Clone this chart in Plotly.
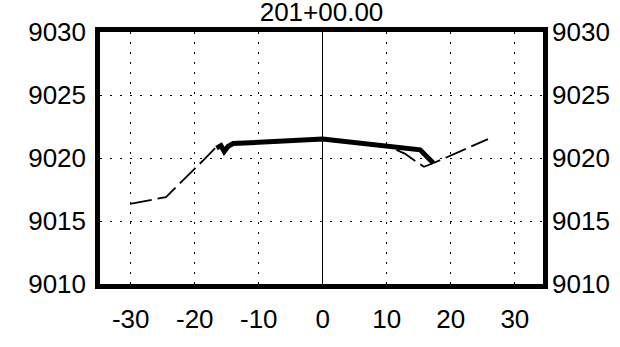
import plotly.graph_objects as go

title_text = "201+00.00"

# Existing ground (dashed), two visible pieces
ground_left_x = [-30.1, -24.5, -18.4, -16.8]
ground_left_y = [9016.35, 9016.9, 9019.95, 9020.8]
ground_right_x = [11.5, 12.8, 15.8, 17.3, 25.8]
ground_right_y = [9020.65, 9020.35, 9019.3, 9019.6, 9021.5]

# Design template (thick)
design_x = [-16.6, -15.9, -15.4, -14.8, -14.0, 0.0, 15.2, 17.25]
design_y = [9020.78, 9020.98, 9020.52, 9020.92, 9021.15, 9021.5, 9020.65, 9019.6]

x_ticks = [-30, -20, -10, 0, 10, 20, 30]
y_ticks = [9010, 9015, 9020, 9025, 9030]
x_range = [-34.8, 34.4]
y_range = [9010, 9030]

FONT = "Arial, Liberation Sans, sans-serif"
W, H = 620, 347

fig = go.Figure()
dash = "22px,6px"
fig.add_trace(go.Scatter(x=ground_left_x, y=ground_left_y, mode="lines",
                         line=dict(color="black", width=1.8, dash=dash),
                         hoverinfo="skip", showlegend=False))
fig.add_trace(go.Scatter(x=ground_right_x, y=ground_right_y, mode="lines",
                         line=dict(color="black", width=1.8, dash=dash),
                         hoverinfo="skip", showlegend=False))
fig.add_trace(go.Scatter(x=design_x, y=design_y, mode="lines",
                         line=dict(color="black", width=5),
                         hoverinfo="skip", showlegend=False))
# invisible trace to activate right-hand axis
fig.add_trace(go.Scatter(x=design_x, y=design_y, mode="lines", yaxis="y2",
                         line=dict(color="rgba(0,0,0,0)", width=0),
                         hoverinfo="skip", showlegend=False))

fig.update_layout(
    width=W, height=H,
    margin=dict(l=100, r=77, t=32, b=63, autoexpand=False),
    paper_bgcolor="white", plot_bgcolor="white",
    font=dict(family=FONT, size=26, color="black"),
    title=dict(text=title_text, x=0.5, xref="paper", xanchor="center",
               y=1 - 12 / H, yref="container", yanchor="middle",
               automargin=False,
               font=dict(family=FONT, size=26, color="black")),
    xaxis=dict(range=x_range, tickvals=x_ticks, ticktext=[str(v) for v in x_ticks],
               showgrid=True, gridcolor="black", gridwidth=1, griddash="2px,8px",
               zeroline=True, zerolinecolor="black", zerolinewidth=1,
               showline=True, linecolor="black", linewidth=4.5, mirror=True,
               ticks="", ticklabelstandoff=8, fixedrange=True, automargin=False),
    yaxis=dict(range=y_range, tickvals=y_ticks, ticktext=[str(v) for v in y_ticks],
               showgrid=True, gridcolor="black", gridwidth=1, griddash="2px,8px",
               zeroline=False,
               showline=True, linecolor="black", linewidth=4.5, mirror=True,
               ticks="", ticklabelstandoff=4, fixedrange=True, automargin=False),
    yaxis2=dict(range=y_range, tickvals=y_ticks, ticktext=[str(v) for v in y_ticks],
                overlaying="y", side="right", showgrid=False, zeroline=False,
                showline=False, ticks="", ticklabelstandoff=8, fixedrange=True,
                automargin=False),
)

fig.write_html("out.html", config={"displayModeBar": False},
               post_script="document.body.style.margin='0';document.body.style.overflow='hidden';")
